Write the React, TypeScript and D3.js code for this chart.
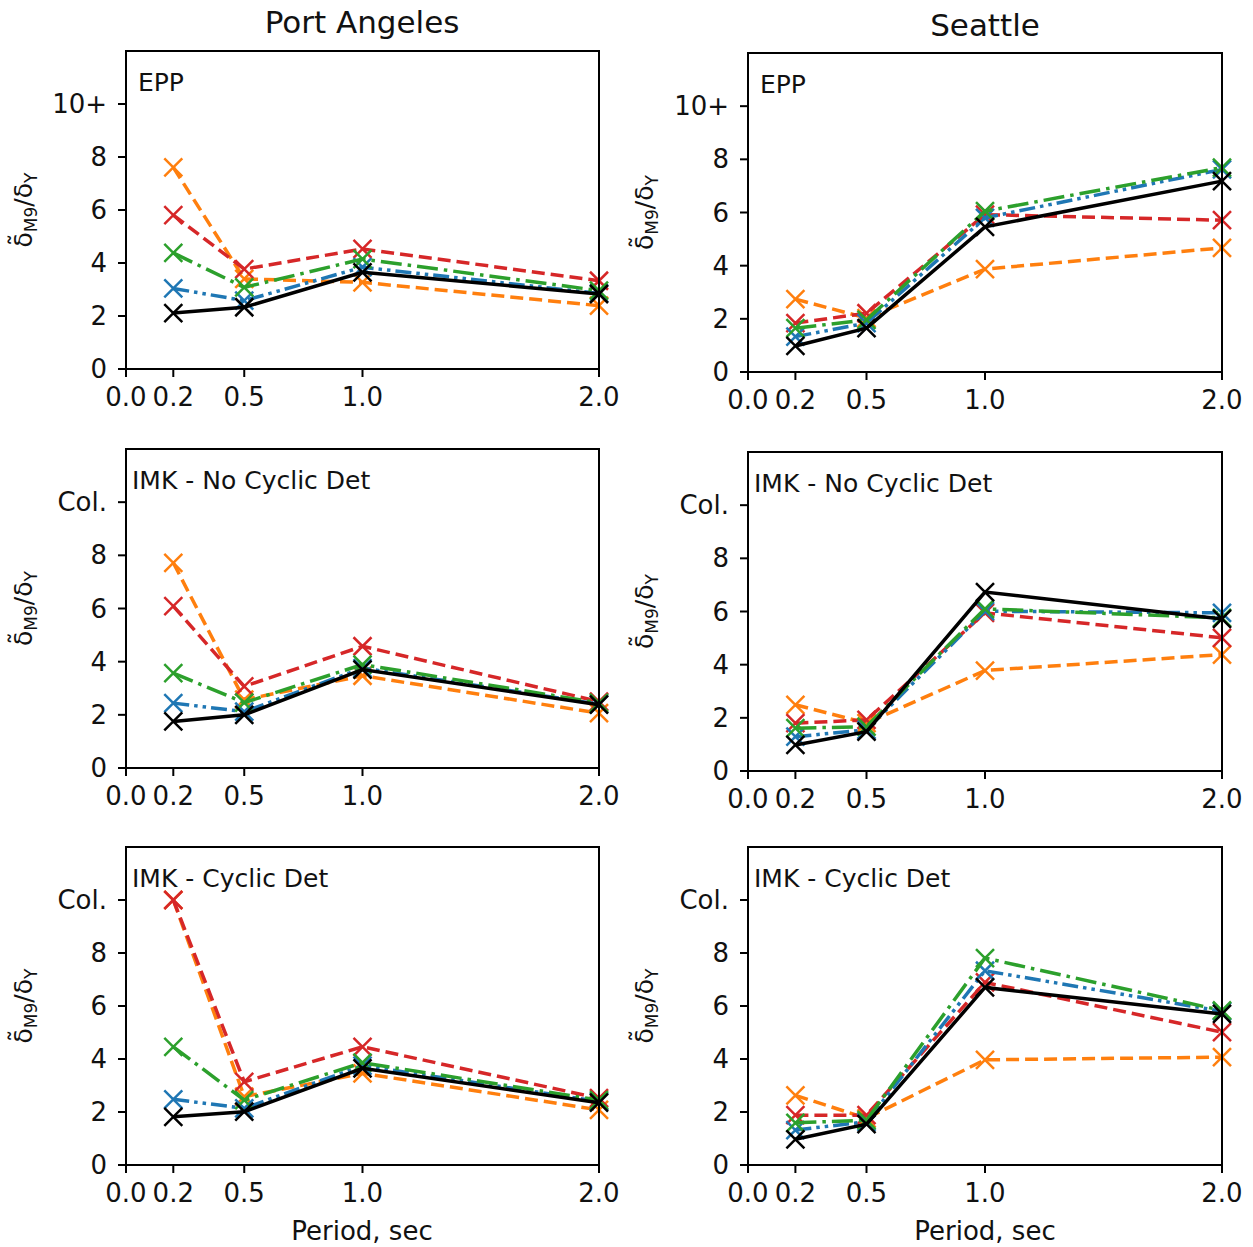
import React from "react";
import * as d3 from "d3";

// ---- data ----
const periods = [0.2, 0.5, 1.0, 2.0];
const xTickValues = [0.0, 0.2, 0.5, 1.0, 2.0];
const xTickLabels = ["0.0", "0.2", "0.5", "1.0", "2.0"];
const yTickValues = [0, 2, 4, 6, 8, 10];
const yTickLabelsEpp = ["0", "2", "4", "6", "8", "10+"];
const yTickLabelsImk = ["0", "2", "4", "6", "8", "Col."];
const columnTitles = ["Port Angeles", "Seattle"];
const panelLabels = ["EPP", "IMK - No Cyclic Det", "IMK - Cyclic Det"];
const seriesNames = ["orange", "red", "blue", "green", "black"];

// Port Angeles – EPP
const paEppOrange = [7.61, 3.4, 3.27, 2.39];
const paEppRed = [5.81, 3.77, 4.53, 3.33];
const paEppGreen = [4.38, 3.08, 4.15, 2.96];
const paEppBlue = [3.04, 2.58, 3.84, 2.85];
const paEppBlack = [2.11, 2.33, 3.65, 2.83];
// Seattle – EPP
const seEppOrange = [2.74, 2.03, 3.87, 4.67];
const seEppRed = [1.84, 2.21, 5.92, 5.71];
const seEppGreen = [1.65, 1.96, 6.05, 7.69];
const seEppBlue = [1.33, 1.84, 5.8, 7.62];
const seEppBlack = [0.98, 1.65, 5.46, 7.18];
// Port Angeles – IMK No Cyclic Det
const paNcdOrange = [7.72, 2.57, 3.47, 2.06];
const paNcdRed = [6.09, 3.07, 4.58, 2.5];
const paNcdGreen = [3.57, 2.46, 3.89, 2.45];
const paNcdBlue = [2.44, 2.12, 3.76, 2.4];
const paNcdBlack = [1.75, 2.0, 3.7, 2.38];
// Seattle – IMK No Cyclic Det
const seNcdOrange = [2.49, 1.8, 3.78, 4.38];
const seNcdRed = [1.8, 1.92, 5.95, 5.01];
const seNcdGreen = [1.61, 1.67, 6.1, 5.76];
const seNcdBlue = [1.29, 1.55, 6.01, 5.95];
const seNcdBlack = [0.98, 1.48, 6.73, 5.72];
// Port Angeles – IMK Cyclic Det
const paCdOrange = [10, 2.58, 3.46, 2.08];
const paCdRed = [10, 3.14, 4.46, 2.52];
const paCdGreen = [4.46, 2.45, 3.86, 2.45];
const paCdBlue = [2.48, 2.14, 3.75, 2.4];
const paCdBlack = [1.82, 2.01, 3.65, 2.35];
// Seattle – IMK Cyclic Det
const seCdOrange = [2.63, 1.76, 3.97, 4.07];
const seCdRed = [1.88, 1.88, 6.89, 5.01];
const seCdGreen = [1.59, 1.69, 7.81, 5.83];
const seCdBlue = [1.32, 1.63, 7.33, 5.8];
const seCdBlack = [0.97, 1.54, 6.7, 5.7];

// ---- styles ----
const STYLE: Record<string, { color: string; dash: string | null }> = {
  orange: { color: "#ff7f0e", dash: "13,6" },
  red: { color: "#d62728", dash: "13,6" },
  green: { color: "#2ca02c", dash: "21,6,3.5,6" },
  blue: { color: "#1f77b4", dash: "16,5,3.5,5,3.5,5" },
  black: { color: "#000000", dash: null },
};

const FONT = "'DejaVu Sans', sans-serif";

type PanelProps = {
  left: number;
  right: number;
  top: number;
  bottom: number;
  label: string;
  labelDx: number;
  yLabels: string[];
  series: Record<string, number[]>;
  ylabelX: number;
};

function YLabel({ x, y }: { x: number; y: number }) {
  return (
    <text
      transform={`translate(${x},${y}) rotate(-90)`}
      textAnchor="middle"
      fontFamily={FONT}
      fontSize={25}
      fill="#111"
    >
      <tspan>{"δ\u0303"}</tspan>
      <tspan fontSize={17} dy={5}>M9</tspan>
      <tspan dy={-5}>/δ</tspan>
      <tspan fontSize={17} dy={5}>Y</tspan>
    </text>
  );
}

function Panel(p: PanelProps) {
  const x = d3.scaleLinear().domain([0, 2]).range([p.left, p.right]);
  const y = d3.scaleLinear().domain([0, 12]).range([p.bottom, p.top]);
  const line = d3
    .line<[number, number]>()
    .x((d) => x(d[0]))
    .y((d) => y(d[1]));
  const ms = 9;
  return (
    <g>
      {seriesNames.map((name) => {
        const vals = p.series[name];
        const pts: [number, number][] = periods.map((t, i) => [t, vals[i]]);
        const st = STYLE[name];
        return (
          <g key={name}>
            <path
              d={line(pts) || ""}
              fill="none"
              stroke={st.color}
              strokeWidth={3.5}
              strokeDasharray={st.dash || undefined}
            />
            {pts.map((d, i) => (
              <path
                key={i}
                d={`M${x(d[0]) - ms},${y(d[1]) - ms}L${x(d[0]) + ms},${y(d[1]) + ms}M${x(d[0]) - ms},${y(d[1]) + ms}L${x(d[0]) + ms},${y(d[1]) - ms}`}
                stroke={st.color}
                strokeWidth={2.5}
                fill="none"
              />
            ))}
          </g>
        );
      })}
      <rect
        x={p.left}
        y={p.top}
        width={p.right - p.left}
        height={p.bottom - p.top}
        fill="none"
        stroke="#000"
        strokeWidth={2}
      />
      {xTickValues.map((v, i) => (
        <g key={"xt" + i}>
          <line x1={x(v)} x2={x(v)} y1={p.bottom} y2={p.bottom + 8} stroke="#000" strokeWidth={2} />
          <text
            x={x(v)}
            y={p.bottom + 37}
            textAnchor="middle"
            fontFamily={FONT}
            fontSize={26}
            fill="#111"
          >
            {xTickLabels[i]}
          </text>
        </g>
      ))}
      {yTickValues.map((v, i) => (
        <g key={"yt" + i}>
          <line x1={p.left - 8} x2={p.left} y1={y(v)} y2={y(v)} stroke="#000" strokeWidth={2} />
          <text
            x={p.left - 19}
            y={y(v) + 9}
            textAnchor="end"
            fontFamily={FONT}
            fontSize={26}
            fill="#111"
          >
            {p.yLabels[i]}
          </text>
        </g>
      ))}
      <text x={p.left + p.labelDx} y={p.top + 40} fontFamily={FONT} fontSize={25} fill="#111">
        {p.label}
      </text>
      <YLabel x={p.ylabelX} y={(p.top + p.bottom) / 2} />
    </g>
  );
}

export default function App() {
  const cols = [
    { left: 126, right: 599, ylabelX: 32, tops: [51, 449, 847], bottoms: [369, 768, 1165], cx: 362 },
    { left: 748, right: 1222, ylabelX: 653, tops: [53, 452, 847], bottoms: [372, 771, 1165], cx: 985 },
  ];
  const panelSeries = [
    [
      { orange: paEppOrange, red: paEppRed, green: paEppGreen, blue: paEppBlue, black: paEppBlack },
      { orange: paNcdOrange, red: paNcdRed, green: paNcdGreen, blue: paNcdBlue, black: paNcdBlack },
      { orange: paCdOrange, red: paCdRed, green: paCdGreen, blue: paCdBlue, black: paCdBlack },
    ],
    [
      { orange: seEppOrange, red: seEppRed, green: seEppGreen, blue: seEppBlue, black: seEppBlack },
      { orange: seNcdOrange, red: seNcdRed, green: seNcdGreen, blue: seNcdBlue, black: seNcdBlack },
      { orange: seCdOrange, red: seCdRed, green: seCdGreen, blue: seCdBlue, black: seCdBlack },
    ],
  ];
  const labelDx = [12, 6, 6];
  return (
    <svg
      width={1253}
      height={1247}
      style={{ position: "absolute", left: 0, top: 0, background: "#fff" }}
    >
      <rect x={0} y={0} width={1253} height={1247} fill="#fff" />
      {cols.map((c, ci) => (
        <g key={ci}>
          <text
            x={c.cx}
            y={ci === 0 ? 33 : 36}
            textAnchor="middle"
            fontFamily={FONT}
            fontSize={31}
            fill="#111"
          >
            {columnTitles[ci]}
          </text>
          {[0, 1, 2].map((ri) => (
            <Panel
              key={ri}
              left={c.left}
              right={c.right}
              top={c.tops[ri]}
              bottom={c.bottoms[ri]}
              label={panelLabels[ri]}
              labelDx={labelDx[ri]}
              yLabels={ri === 0 ? yTickLabelsEpp : yTickLabelsImk}
              series={panelSeries[ci][ri]}
              ylabelX={c.ylabelX}
            />
          ))}
          <text
            x={c.cx}
            y={1240}
            textAnchor="middle"
            fontFamily={FONT}
            fontSize={26}
            fill="#111"
          >
            Period, sec
          </text>
        </g>
      ))}
    </svg>
  );
}
